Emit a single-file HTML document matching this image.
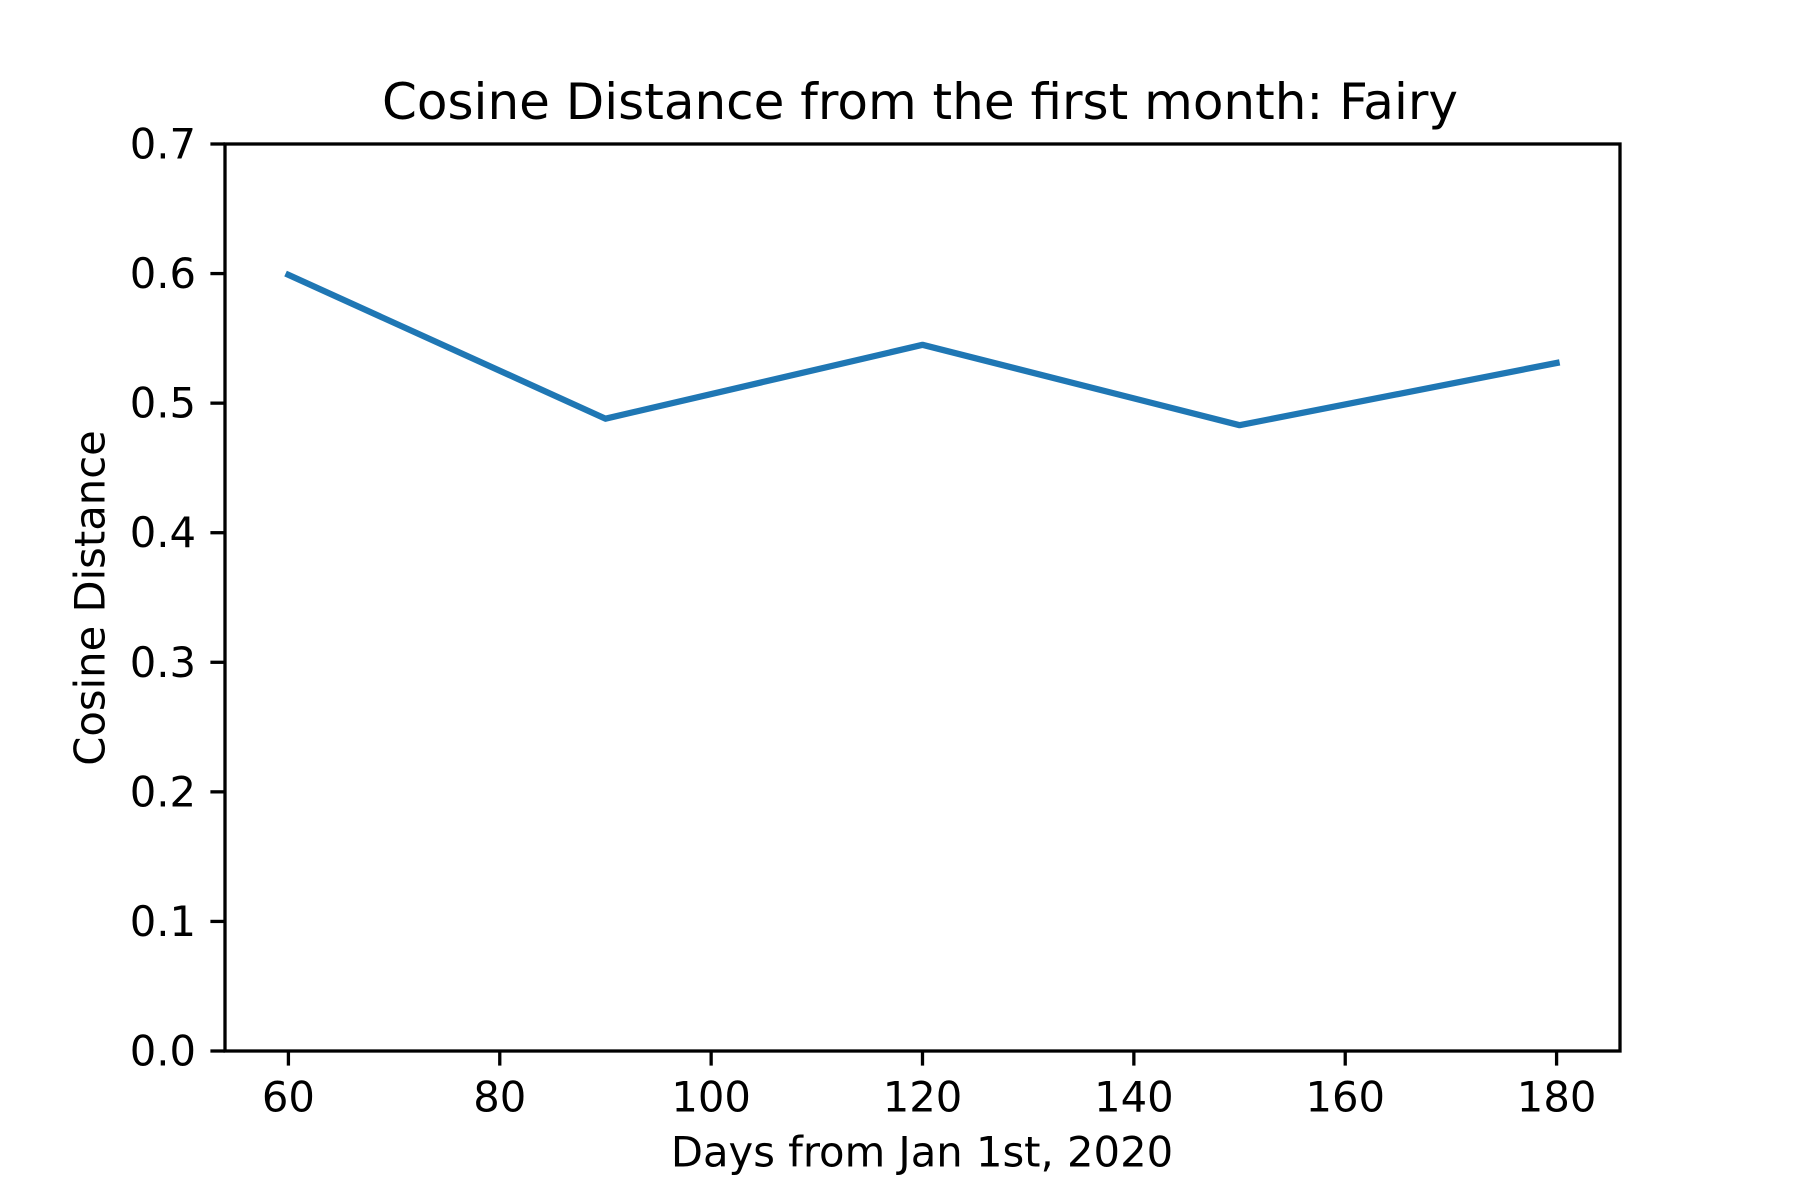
<!DOCTYPE html>
<html><head><meta charset="utf-8"><style>body{margin:0;background:#fff}svg{display:block}text{font-family:"DejaVu Sans","Liberation Sans",sans-serif;fill:#000}</style></head>
<body>
<svg id="chart" width="1800" height="1200" viewBox="0 0 1800 1200">
<rect width="1800" height="1200" fill="#fff"/>
<text x="920" y="102" font-size="50" text-anchor="middle" dominant-baseline="central">Cosine Distance from the first month: Fairy</text>
<text x="922" y="1152" font-size="41.7" text-anchor="middle" dominant-baseline="central">Days from Jan 1st, 2020</text>
<text x="0" y="0" font-size="41.7" text-anchor="middle" dominant-baseline="central" transform="translate(90 598) rotate(-90)">Cosine Distance</text>
<g id="ticks"></g>
<polyline id="series" fill="none" stroke="#1f77b4" stroke-width="6.25" stroke-linecap="square" stroke-linejoin="round"/>
<rect x="225" y="144" width="1395" height="907" fill="none" stroke="#000" stroke-width="3.3"/>
</svg>
<script>
const days = [60, 90, 120, 150, 180];
const distances = [0.599, 0.488, 0.545, 0.483, 0.531];
const xTicks = [60, 80, 100, 120, 140, 160, 180];
const yTicks = [0.0, 0.1, 0.2, 0.3, 0.4, 0.5, 0.6, 0.7];
const L=225,R=1620,T=144,B=1051,xMin=54,xMax=186,yMin=0,yMax=0.7;
const xs=v=>L+(v-xMin)/(xMax-xMin)*(R-L);
const ys=v=>B-(v-yMin)/(yMax-yMin)*(B-T);
const NS='http://www.w3.org/2000/svg';
const g=document.getElementById('ticks');
function mk(tag,attrs){const e=document.createElementNS(NS,tag);for(const k in attrs)e.setAttribute(k,attrs[k]);return e;}
xTicks.forEach(t=>{
  const l=mk('line',{x1:xs(t),x2:xs(t),y1:B,y2:B+14.6,stroke:'#000','stroke-width':3.3});
  
  
  g.appendChild(l);
  const tx=mk('text',{x:xs(t),y:B+46,'font-size':41.7,'text-anchor':'middle','dominant-baseline':'central'});
  tx.textContent=t;
  
  
  g.appendChild(tx);
});
yTicks.forEach(t=>{
  const l=mk('line',{x1:L-14.6,x2:L,y1:ys(t),y2:ys(t),stroke:'#000','stroke-width':3.3});
  
  
  g.appendChild(l);
  const tx=mk('text',{x:L-29,y:ys(t),'font-size':41.7,'text-anchor':'end','dominant-baseline':'central'});
  tx.textContent=t.toFixed(1);
  
  
  g.appendChild(tx);
});
document.getElementById('series').setAttribute('points',days.map((d,i)=>xs(d)+','+ys(distances[i])).join(' '));
</script>
</body></html>
